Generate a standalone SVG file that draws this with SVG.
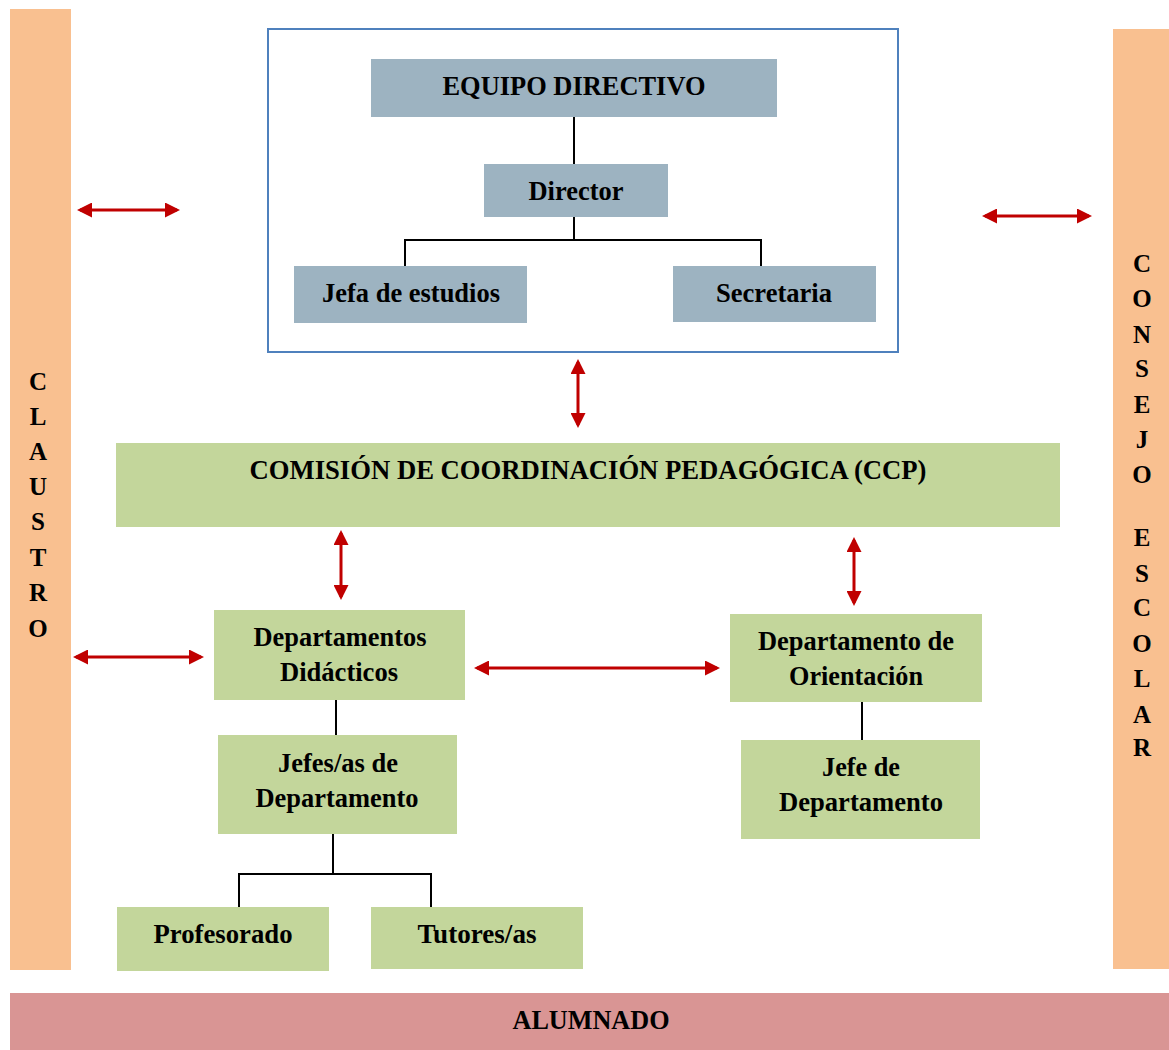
<svg xmlns="http://www.w3.org/2000/svg" width="1169" height="1050" viewBox="0 0 1169 1050">
<style>
text{font-family:"Liberation Serif","Times New Roman",serif;font-weight:bold;font-size:28px;fill:#000;text-anchor:middle}
.v{font-size:25px}
.blue{fill:#9DB3C1}
.green{fill:#C3D69B}
.side{fill:#F9C090}
.tree{stroke:#000;stroke-width:2;fill:none}
.arr{stroke:#C00000;stroke-width:3;fill:none;marker-start:url(#ah);marker-end:url(#ah)}
</style>
<defs>
<marker id="ah" viewBox="0 0 10 10" refX="8" refY="5" markerUnits="userSpaceOnUse" markerWidth="16" markerHeight="15" orient="auto-start-reverse">
<path d="M0,0 L10,5 L0,10 z" fill="#C00000"/>
</marker>
</defs>
<rect width="1169" height="1050" fill="#fff"/>

<g id="claustro">
<rect class="side" x="10" y="9" width="61" height="961"/>
<text class="v" x="38" y="390">C</text>
<text class="v" x="38" y="425">L</text>
<text class="v" x="38" y="460">A</text>
<text class="v" x="38" y="495">U</text>
<text class="v" x="38" y="530">S</text>
<text class="v" x="38" y="566">T</text>
<text class="v" x="38" y="601">R</text>
<text class="v" x="38" y="637">O</text>
</g>

<g id="consejo">
<rect class="side" x="1113" y="29" width="56" height="940"/>
<text class="v" x="1142" y="272">C</text>
<text class="v" x="1142" y="307">O</text>
<text class="v" x="1142" y="343">N</text>
<text class="v" x="1142" y="377">S</text>
<text class="v" x="1142" y="413">E</text>
<text class="v" x="1142" y="448">J</text>
<text class="v" x="1142" y="483">O</text>
<text class="v" x="1142" y="546">E</text>
<text class="v" x="1142" y="582">S</text>
<text class="v" x="1142" y="616">C</text>
<text class="v" x="1142" y="652">O</text>
<text class="v" x="1142" y="687">L</text>
<text class="v" x="1142" y="723">A</text>
<text class="v" x="1142" y="756">R</text>
</g>

<g id="alumnado">
<rect x="10" y="993" width="1159" height="57" fill="#D99594"/>
<text x="591" y="1029" textLength="157" lengthAdjust="spacingAndGlyphs">ALUMNADO</text>
</g>

<g id="equipo-frame">
<rect x="268" y="29" width="630" height="323" fill="none" stroke="#4F81BD" stroke-width="2"/>
</g>

<g id="equipo-directivo">
<rect class="blue" x="371" y="59" width="406" height="58"/>
<text x="574" y="95" textLength="263" lengthAdjust="spacingAndGlyphs">EQUIPO DIRECTIVO</text>
</g>
<g id="director">
<rect class="blue" x="484" y="164" width="184" height="53"/>
<text x="576" y="200" textLength="95" lengthAdjust="spacingAndGlyphs">Director</text>
</g>
<g id="jefa-estudios">
<rect class="blue" x="294" y="266" width="233" height="57"/>
<text x="411" y="302" textLength="178" lengthAdjust="spacingAndGlyphs">Jefa de estudios</text>
</g>
<g id="secretaria">
<rect class="blue" x="673" y="266" width="203" height="56"/>
<text x="774" y="302" textLength="116" lengthAdjust="spacingAndGlyphs">Secretaria</text>
</g>

<g id="ccp">
<rect class="green" x="116" y="443" width="944" height="84"/>
<text x="588" y="479" textLength="677" lengthAdjust="spacingAndGlyphs">COMISIÓN DE COORDINACIÓN PEDAGÓGICA (CCP)</text>
</g>

<g id="dep-didacticos">
<rect class="green" x="214" y="610" width="251" height="90"/>
<text x="340" y="646" textLength="173" lengthAdjust="spacingAndGlyphs">Departamentos</text>
<text x="339" y="681" textLength="118" lengthAdjust="spacingAndGlyphs">Didácticos</text>
</g>
<g id="jefes-dep">
<rect class="green" x="218" y="735" width="239" height="99"/>
<text x="338" y="772" textLength="120" lengthAdjust="spacingAndGlyphs">Jefes/as de</text>
<text x="337" y="807" textLength="163" lengthAdjust="spacingAndGlyphs">Departamento</text>
</g>
<g id="profesorado">
<rect class="green" x="117" y="907" width="212" height="64"/>
<text x="223" y="943" textLength="139" lengthAdjust="spacingAndGlyphs">Profesorado</text>
</g>
<g id="tutores">
<rect class="green" x="371" y="907" width="212" height="62"/>
<text x="477" y="943" textLength="119" lengthAdjust="spacingAndGlyphs">Tutores/as</text>
</g>
<g id="dep-orientacion">
<rect class="green" x="730" y="614" width="252" height="88"/>
<text x="856" y="650" textLength="196" lengthAdjust="spacingAndGlyphs">Departamento de</text>
<text x="856" y="685" textLength="134" lengthAdjust="spacingAndGlyphs">Orientación</text>
</g>
<g id="jefe-dep">
<rect class="green" x="741" y="740" width="239" height="99"/>
<text x="861" y="776" textLength="78" lengthAdjust="spacingAndGlyphs">Jefe de</text>
<text x="861" y="811" textLength="164" lengthAdjust="spacingAndGlyphs">Departamento</text>
</g>

<g id="connectors">
<path class="tree" d="M574,117 V164 M574,217 V240 M405,266 V240 H761 V266 M336,700 V735 M333,834 V874 M239,907 V874 H431 V907 M862,702 V740"/>
<line class="arr" x1="80" y1="210" x2="177" y2="210"/>
<line class="arr" x1="985" y1="216" x2="1089" y2="216"/>
<line class="arr" x1="578" y1="362" x2="578" y2="425"/>
<line class="arr" x1="341" y1="533" x2="341" y2="597"/>
<line class="arr" x1="854" y1="540" x2="854" y2="603"/>
<line class="arr" x1="76" y1="657" x2="201" y2="657"/>
<line class="arr" x1="477" y1="668" x2="717" y2="668"/>
</g>
</svg>
